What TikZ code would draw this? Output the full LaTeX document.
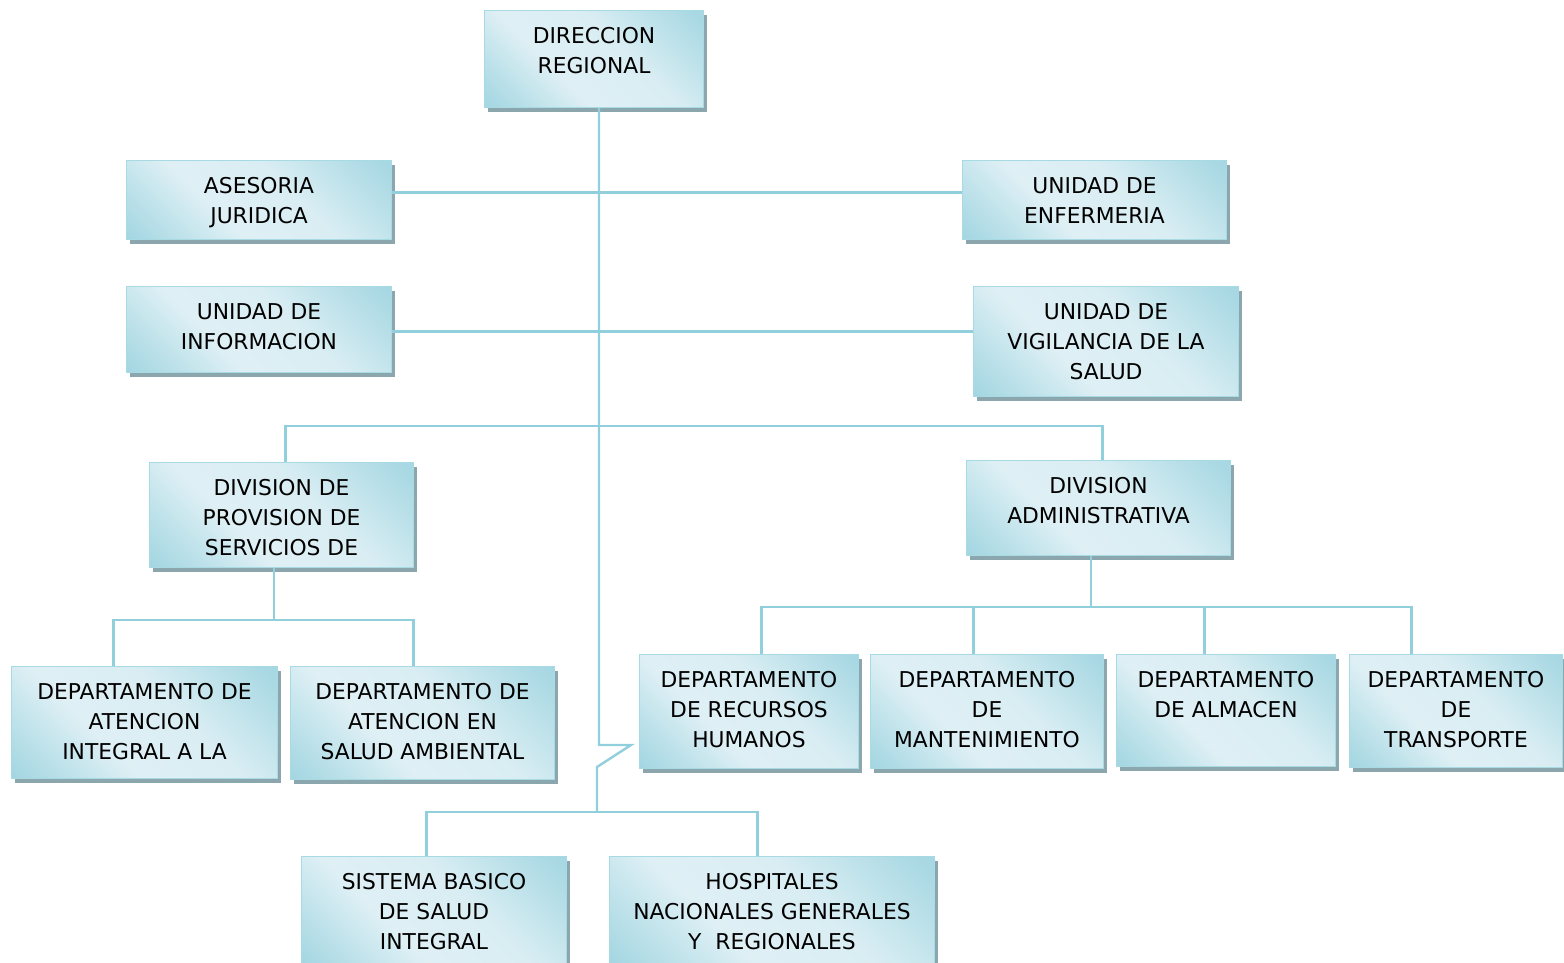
\documentclass[tikz,border=0pt]{standalone}
\usepackage{fontspec}
\setmainfont{DejaVu Sans}
\usetikzlibrary{shadows}
\definecolor{boxdark}{HTML}{8CCCDA}
\definecolor{boxlight}{HTML}{DFF0F5}
\definecolor{boxedge}{HTML}{A8DAE4}
\definecolor{shadowc}{HTML}{8CA6AD}
\definecolor{linec}{HTML}{92CFDC}
% diagonal fill: darker toward two opposite corners, light band between
\pgfdeclarehorizontalshading{orgshade}{100bp}{%
  color(0bp)=(boxdark!88!boxlight);
  color(14bp)=(boxdark!62!boxlight);
  color(36bp)=(boxlight!92!boxdark);
  color(56bp)=(boxlight);
  color(75bp)=(boxdark!58!boxlight);
  color(90bp)=(boxdark)}
\tikzset{
  orgbox/.style={draw=boxedge, line width=1pt, inner sep=0pt, anchor=north west,
    shading=orgshade, shading angle=225,
    drop shadow={shadow xshift=3pt, shadow yshift=-4pt, fill=shadowc, opacity=1}},
  orgtext/.style={anchor=north, inner sep=0pt, align=center,
    font=\fontsize{21.8}{30}\selectfont, text=black},
  conn/.style={draw=linec, line width=2.4pt, line join=miter},
}
% box: name, left, top, right, bottom, text
\newcommand\orgunit[6]{%
  \node[orgbox, minimum width={(#4-#2)*1pt}, minimum height={(#5-#3)*1pt}] (#1) at (#2,#3) {};
  \node[orgtext] (#1-t) at ([yshift=-17.2pt]#1.north) {#6};
}
\begin{document}
\begin{tikzpicture}[x=1pt, y=-1pt]
\useasboundingbox (0,0) rectangle (1564,962);

\orgunit{dir}{484}{10}{703}{107}{DIRECCION\\REGIONAL}
\orgunit{ase}{126}{160}{391}{239}{ASESORIA\\JURIDICA}
\orgunit{enf}{962}{160}{1226}{239}{UNIDAD DE\\ENFERMERIA}
\orgunit{inf}{126}{286}{391}{372}{UNIDAD DE\\INFORMACION}
\orgunit{vig}{973}{286}{1238}{396}{UNIDAD DE\\VIGILANCIA DE LA\\SALUD}
\orgunit{prov}{149}{462}{413}{567}{DIVISION DE\\PROVISION DE\\SERVICIOS DE}
\orgunit{adm}{966}{460}{1230}{555}{DIVISION\\ADMINISTRATIVA}
\orgunit{aia}{11}{666}{277}{778}{DEPARTAMENTO DE\\ATENCION\\INTEGRAL A LA}
\orgunit{asa}{290}{666}{554}{779}{DEPARTAMENTO DE\\ATENCION EN\\SALUD AMBIENTAL}
\orgunit{rh}{639}{654}{858}{768}{DEPARTAMENTO\\DE RECURSOS\\HUMANOS}
\orgunit{man}{870}{654}{1103}{768}{DEPARTAMENTO\\DE\\MANTENIMIENTO}
\orgunit{alm}{1116}{654}{1335}{766}{DEPARTAMENTO\\DE ALMACEN}
\orgunit{tra}{1349}{654}{1562}{767}{DEPARTAMENTO\\DE\\TRANSPORTE}
\orgunit{sbs}{301}{856}{566}{966}{SISTEMA BASICO\\DE SALUD\\INTEGRAL}
\orgunit{hos}{609}{856}{934}{966}{HOSPITALES\\NACIONALES GENERALES\\Y\ \ REGIONALES}

% main trunk with break mark
\coordinate (trunk) at (599,0);
\coordinate (brkA) at (599,745);
\coordinate (brkB) at (631,745);
\coordinate (brkC) at (597,767);
\coordinate (hbus) at (597,812);
\draw[conn] (dir.south -| trunk) -- (brkA) -- (brkB) -- (brkC) -- (hbus);

% staff units
\coordinate (aseR) at ([yshift=7.5pt]ase.east);
\draw[conn] (aseR) -- (aseR -| enf.west);
\coordinate (infR) at ([yshift=-2pt]inf.east);
\draw[conn] (infR) -- (infR -| vig.west);

% divisions
\coordinate (dbus) at (599,426);
\draw[conn] ([xshift=4pt]prov.north) |- (dbus) -| ([xshift=4pt]adm.north);

% departments under provision division
\coordinate (pbus) at (274,620);
\draw[conn] (prov.south -| pbus) -- (pbus);
\draw[conn] ([xshift=-31pt]aia.north) |- (pbus) -| ([xshift=-9pt]asa.north);

% departments under administrative division
\coordinate (abus) at (1091,607);
\draw[conn] (adm.south -| abus) -- (abus);
\draw[conn] ([xshift=12.5pt]rh.north) |- (abus) -| ([xshift=-44.5pt]tra.north);
\coordinate (manT) at ([xshift=-13.5pt]man.north);
\draw[conn] (manT) -- (manT |- abus);
\coordinate (almT) at ([xshift=-21.5pt]alm.north);
\draw[conn] (almT) -- (almT |- abus);

% health services
\draw[conn] ([xshift=-7.5pt]sbs.north) |- (hbus) -| ([xshift=-14.5pt]hos.north);
\end{tikzpicture}
\end{document}
